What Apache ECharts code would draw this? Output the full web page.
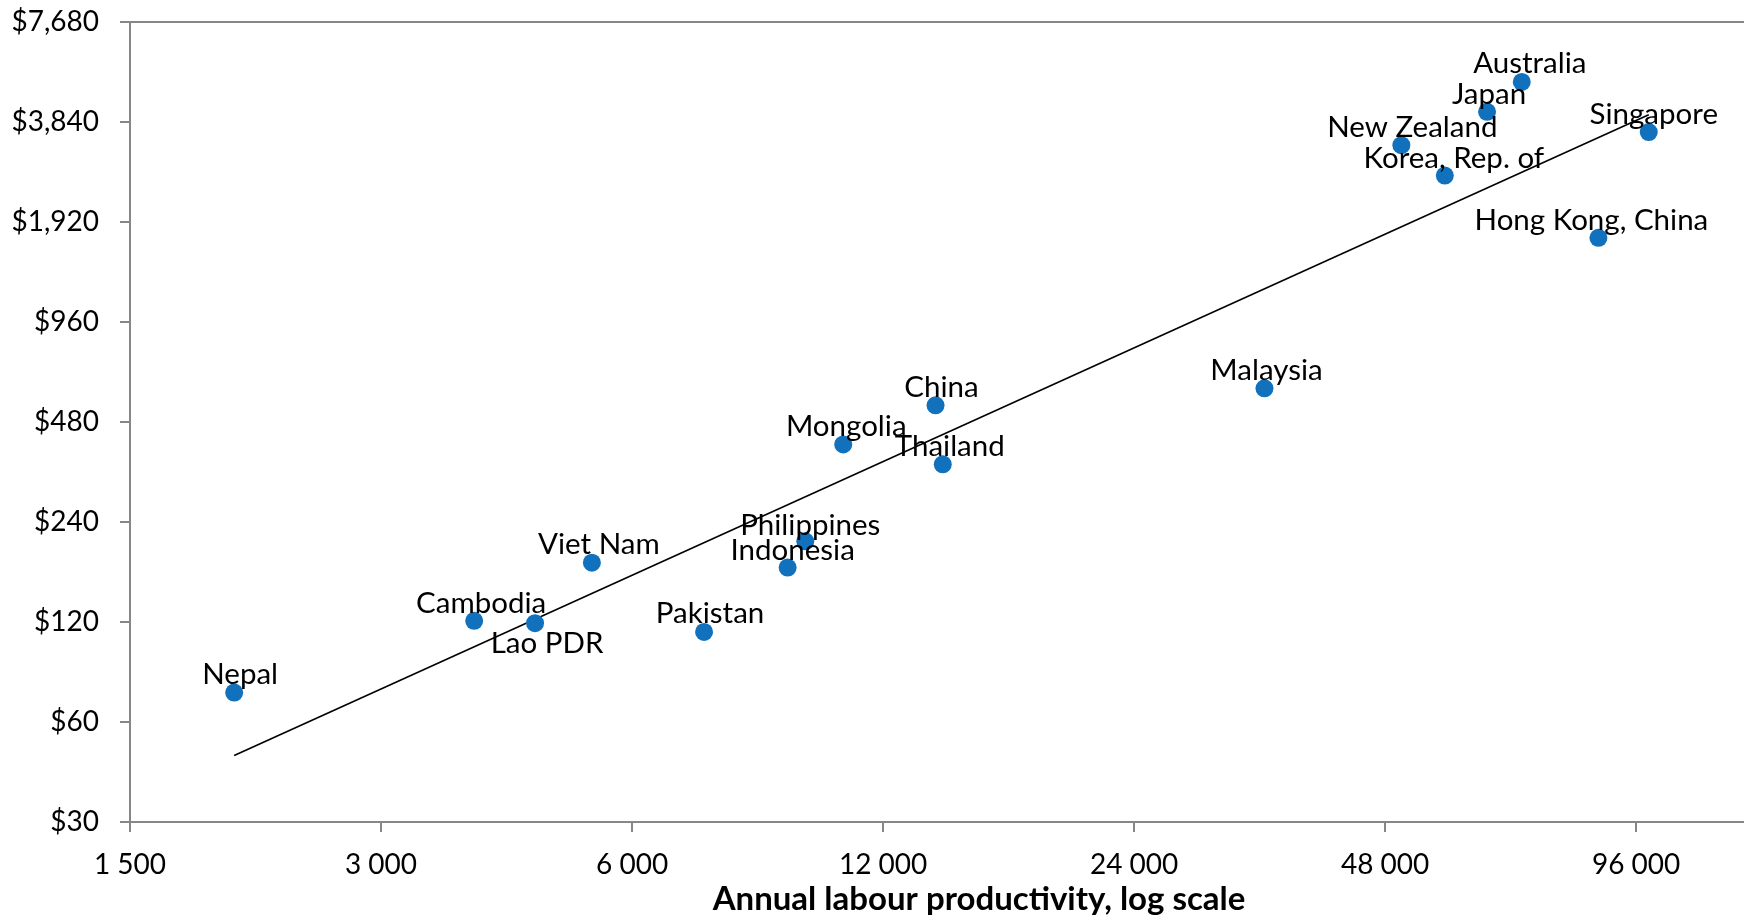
<!DOCTYPE html>
<html>
<head>
<meta charset="utf-8">
<script src="https://cdn.jsdelivr.net/npm/echarts@6/dist/echarts.min.js"></script>
<style>
  html, body { margin: 0; padding: 0; background: #ffffff; }
  #chart { width: 1744px; height: 916px; }
</style>
</head>
<body>
<div id="chart"></div>
<script>
// Economies, annual labour productivity and monthly wage
const countries = ['Nepal', 'Cambodia', 'Lao PDR', 'Viet Nam', 'Pakistan', 'Indonesia', 'Philippines',
  'Mongolia', 'China', 'Thailand', 'Malaysia', 'Hong Kong, China', 'Korea, Rep. of', 'New Zealand',
  'Japan', 'Australia', 'Singapore'];
const productivity = [2000, 3880, 4590, 5370, 7320, 9220, 9680,
  10750, 13870, 14150, 34400, 86500, 56600, 50200,
  63600, 70000, 99400];
const wages = [73.6, 121, 119, 181, 112, 175, 210,
  411, 539, 358, 606, 1720, 2650, 3270,
  4120, 5070, 3580];

// Trend line end points (log-log fit)
const trendProductivity = [2000, 99400];
const trendWages = [47.6, 4040];

// Tick values of both log-2 axes
const xTicks = [1500, 3000, 6000, 12000, 24000, 48000, 96000];
const xAxisEnd = 129300;
const yTicks = [30, 60, 120, 240, 480, 960, 1920, 3840, 7680];

// Label placement relative to each marker
const labelOffsets = {
  'Nepal': [6, -18], 'Cambodia': [7, -17], 'Lao PDR': [12, 20], 'Viet Nam': [7, -18],
  'Pakistan': [6, -18], 'Indonesia': [5, -17], 'Philippines': [5, -16], 'Mongolia': [3, -18],
  'China': [6, -18], 'Thailand': [7, -18], 'Malaysia': [2, -18], 'Hong Kong, China': [-7, -17],
  'Korea, Rep. of': [9, -17], 'New Zealand': [11, -18], 'Japan': [2, -17], 'Australia': [8, -18],
  'Singapore': [5, -18]
};

const X0 = xTicks[0], Y0 = yTicks[0];
const lx = v => Math.log2(v / X0);
const ly = v => Math.log2(v / Y0);

const FONT = 'Lato, "Open Sans", sans-serif';
const AXIS_GREY = '#878787';

const fmtX = v => String(v).replace(/\B(?=(\d{3})+(?!\d))/g, ' ');
const fmtY = v => '$' + v.toLocaleString('en-US');

const points = countries.map((c, i) => ({
  name: c,
  value: [lx(productivity[i]), ly(wages[i])],
  label: { offset: labelOffsets[c] }
}));

const trend = trendProductivity.map((p, i) => [lx(p), ly(trendWages[i])]);

const chart = echarts.init(document.getElementById('chart'), null, { renderer: 'canvas' });
chart.setOption({
  animation: false,
  backgroundColor: '#ffffff',
  grid: { left: 130, right: 0, top: 22, bottom: 94, containLabel: false },
  xAxis: [{
    type: 'value',
    min: 0,
    max: lx(xAxisEnd),
    splitLine: { show: false },
    axisLine: { show: true, onZero: false, lineStyle: { color: AXIS_GREY, width: 2 } },
    axisTick: { show: true, length: 10, lineStyle: { color: AXIS_GREY, width: 2 },
      customValues: xTicks.map(lx) },
    axisLabel: {
      customValues: xTicks.map(lx),
      margin: 29,
      color: '#000000',
      fontFamily: FONT,
      fontSize: 28,
      formatter: v => fmtX(xTicks[Math.round(v)])
    }
  }, {
    type: 'value',
    position: 'top',
    min: 0,
    max: lx(xAxisEnd),
    splitLine: { show: false },
    axisLine: { show: true, onZero: false, lineStyle: { color: AXIS_GREY, width: 2 } },
    axisTick: { show: false },
    axisLabel: { show: false }
  }],
  yAxis: {
    type: 'value',
    min: 0,
    max: ly(yTicks[yTicks.length - 1]),
    interval: 1,
    splitLine: { show: false },
    axisLine: { show: true, onZero: false, lineStyle: { color: AXIS_GREY, width: 2 } },
    axisTick: { show: true, length: 10, lineStyle: { color: AXIS_GREY, width: 2 } },
    axisLabel: {
      margin: 31,
      color: '#000000',
      fontFamily: FONT,
      fontSize: 28,
      formatter: v => fmtY(yTicks[Math.round(v)])
    }
  },
  graphic: [{
    type: 'text',
    x: 979,
    y: 899,
    style: {
      text: 'Annual labour productivity, log scale',
      font: 'bold 33px ' + FONT,
      fill: '#000000',
      align: 'center',
      verticalAlign: 'middle'
    }
  }],
  series: [{
    type: 'line',
    data: trend,
    symbol: 'none',
    silent: true,
    lineStyle: { color: '#000000', width: 1.6 },
    z: 2
  }, {
    type: 'scatter',
    data: points,
    symbol: 'circle',
    symbolSize: 18,
    itemStyle: { color: '#1271BC', opacity: 1 },
    z: 3,
    label: {
      show: true,
      position: 'inside',
      formatter: '{b}',
      color: '#000000',
      fontFamily: FONT,
      fontSize: 29.5
    },
    emphasis: { disabled: true }
  }]
});
</script>
</body>
</html>
